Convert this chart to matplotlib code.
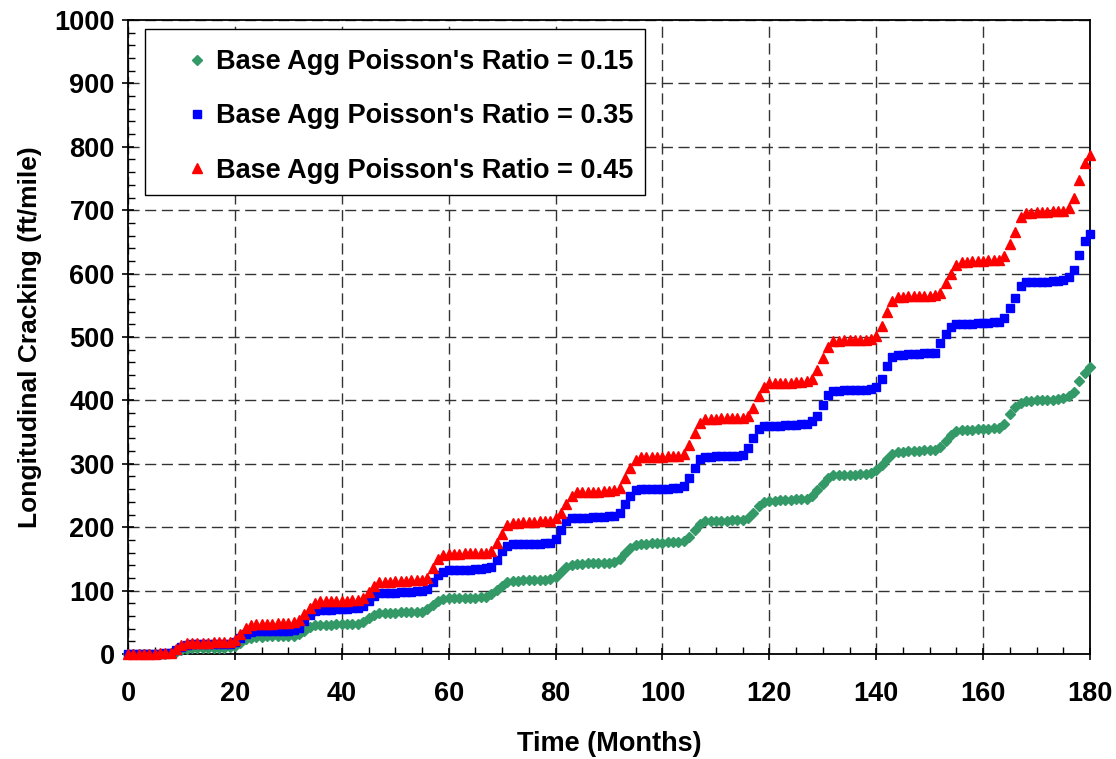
# Longitudinal cracking vs time for three base aggregate Poisson's ratios
import numpy as np
import matplotlib
matplotlib.use("Agg")
import matplotlib.pyplot as plt
from matplotlib.ticker import MultipleLocator
from matplotlib.patches import Rectangle

plt.rcParams['font.family'] = ['Liberation Sans', 'DejaVu Sans']
plt.rcParams['font.weight'] = 'bold'

# data, one value per month (0..180)
months = np.arange(0, 181)

crack_015 = [
    0, 0, 0, 0, 0, 0, 0, 0, 1, 3, 6, 8,
    9, 9, 9, 10, 10, 10, 10, 11, 13, 18, 23, 26,
    27, 27, 28, 28, 28, 28, 29, 29, 32, 37, 42, 45,
    46, 46, 46, 47, 47, 47, 48, 48, 51, 56, 61, 64,
    65, 65, 65, 66, 66, 66, 67, 67, 71, 78, 84, 87,
    88, 88, 88, 89, 89, 89, 90, 90, 94, 101, 108, 113,
    115, 115, 116, 116, 116, 117, 117, 118, 122, 130, 137, 141,
    142, 142, 143, 143, 143, 144, 144, 145, 150, 159, 167, 172,
    174, 174, 175, 175, 175, 176, 176, 177, 179, 185, 196, 205,
    209, 209, 210, 210, 210, 211, 211, 212, 215, 223, 233, 240,
    242, 242, 243, 243, 243, 244, 244, 245, 250, 258, 268, 278,
    282, 282, 283, 283, 283, 284, 284, 285, 290, 298, 308, 316,
    319, 319, 320, 320, 320, 321, 321, 322, 327, 336, 346, 352,
    354, 354, 354, 355, 355, 355, 356, 357, 363, 378, 389, 396,
    399, 399, 400, 400, 400, 401, 402, 403, 407, 414, 430, 443,
    452,
]

crack_035 = [
    0, 0, 0, 0, 0, 0, 0, 1, 1, 6, 11, 14,
    15, 15, 15, 15, 16, 16, 16, 16, 19, 26, 32, 35,
    36, 36, 36, 37, 37, 37, 37, 38, 41, 52, 62, 68,
    70, 70, 70, 71, 71, 71, 72, 72, 75, 84, 92, 96,
    97, 97, 97, 98, 98, 98, 99, 99, 103, 114, 124, 130,
    132, 132, 133, 133, 133, 134, 134, 135, 137, 148, 163, 171,
    173, 173, 173, 174, 174, 174, 175, 175, 182, 196, 209, 214,
    215, 215, 215, 216, 216, 216, 217, 217, 222, 236, 250, 258,
    260, 260, 260, 261, 261, 261, 262, 262, 265, 277, 293, 307,
    311, 311, 312, 312, 312, 313, 313, 314, 325, 341, 355, 359,
    360, 360, 360, 361, 361, 361, 362, 363, 368, 375, 393, 408,
    415, 415, 416, 416, 416, 417, 417, 418, 421, 434, 455, 468,
    472, 472, 473, 473, 473, 474, 474, 475, 490, 505, 516, 520,
    521, 521, 521, 522, 522, 522, 523, 524, 530, 545, 561, 580,
    586, 586, 587, 587, 587, 588, 588, 590, 594, 605, 629, 652,
    662,
]

crack_045 = [
    0, 0, 0, 0, 0, 0, 1, 1, 2, 8, 14, 17,
    18, 18, 18, 18, 19, 19, 19, 19, 22, 32, 41, 46,
    48, 48, 48, 48, 49, 49, 49, 50, 53, 63, 73, 80,
    83, 83, 83, 84, 84, 84, 85, 85, 88, 98, 108, 113,
    114, 114, 115, 115, 115, 116, 116, 116, 120, 135, 150, 156,
    158, 158, 158, 159, 159, 159, 160, 160, 162, 175, 190, 203,
    207, 207, 208, 208, 208, 209, 209, 210, 214, 223, 237, 250,
    255, 255, 256, 256, 256, 257, 257, 258, 262, 278, 294, 306,
    310, 310, 311, 311, 311, 312, 312, 313, 316, 330, 348, 364,
    370, 371, 371, 372, 372, 372, 373, 373, 376, 388, 407, 421,
    427, 427, 428, 428, 428, 429, 429, 430, 433, 448, 467, 485,
    494, 494, 495, 495, 495, 496, 496, 497, 501, 517, 540, 556,
    563, 563, 564, 564, 564, 565, 565, 566, 570, 585, 599, 613,
    619, 619, 620, 620, 620, 621, 621, 622, 628, 646, 666, 689,
    696, 696, 697, 697, 697, 698, 698, 699, 704, 719, 747, 775,
    787,
]

W, H = 1116, 759
fig = plt.figure(figsize=(W / 100, H / 100), dpi=100)
ax = fig.add_axes([128 / W, 1 - 654 / H, (1090 - 128) / W, (654 - 20) / H])

ax.plot(months, crack_015, linestyle='none', marker='D', markersize=5,
        color='#339966', clip_on=False, zorder=3, label="Base Agg Poisson's Ratio = 0.15")
ax.plot(months, crack_035, linestyle='none', marker='s', markersize=6,
        color='#0000FF', clip_on=False, zorder=3, label="Base Agg Poisson's Ratio = 0.35")
ax.plot(months, crack_045, linestyle='none', marker='^', markersize=7,
        color='#FF0000', clip_on=False, zorder=3, label="Base Agg Poisson's Ratio = 0.45")

ax.set_xlim(0, 180)
ax.set_ylim(0, 1000)
ax.xaxis.set_major_locator(MultipleLocator(20))
ax.xaxis.set_minor_locator(MultipleLocator(5))
ax.yaxis.set_major_locator(MultipleLocator(100))
ax.yaxis.set_minor_locator(MultipleLocator(20))
ax.tick_params(which='major', direction='inout', length=9, width=1.2, labelsize=19.5)
ax.tick_params(which='minor', direction='in', length=5, width=1.0)
ax.tick_params(axis='x', which='major', pad=15)
ax.tick_params(axis='y', which='major', pad=5)
for lab in ax.get_xticklabels() + ax.get_yticklabels():
    lab.set_fontweight('bold')

ax.grid(True, which='major', color='#333333', linestyle=(0, (8, 4)), linewidth=1.0)
ax.set_axisbelow(True)
for s in ax.spines.values():
    s.set_linewidth(1.3)

ax.set_xlabel('Time (Months)', fontsize=19.5, fontweight='bold', labelpad=17)
ax.set_ylabel('Longitudinal Cracking (ft/mile)', fontsize=19, fontweight='bold', labelpad=9)

# legend box drawn separately so the markers can sit well inside it
box = Rectangle((145 / W, 1 - 195 / H), (645 - 145) / W, (195 - 29) / H,
                transform=fig.transFigure, facecolor='white', edgecolor='black',
                linewidth=1.0, zorder=4, clip_on=False)
ax.add_patch(box)

leg = ax.legend(loc='upper left', bbox_to_anchor=(186 / W, 1 - 49 / H),
                bbox_transform=fig.transFigure, fontsize=19.5, frameon=False,
                borderpad=0, labelspacing=1.05, handletextpad=0.3, handlelength=0.8,
                markerscale=1.0, borderaxespad=0)
leg.set_zorder(5)
for t in leg.get_texts():
    t.set_fontweight('bold')

fig.savefig('out.png', dpi=100)
